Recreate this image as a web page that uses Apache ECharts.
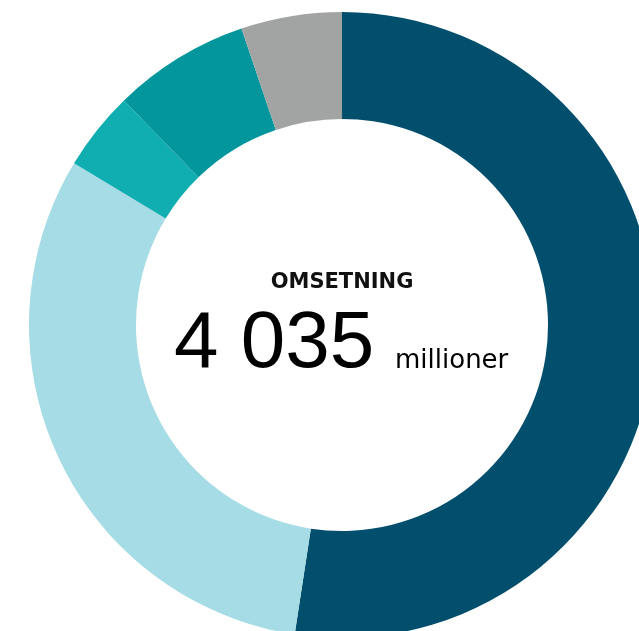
<!DOCTYPE html>
<html>
<head>
<meta charset="utf-8">
<script src="https://cdn.jsdelivr.net/npm/echarts@6/dist/echarts.min.js"></script>
<style>
html,body{margin:0;padding:0;background:#fff;}
#chart{width:639px;height:631px;}
</style>
</head>
<body>
<div id="chart"></div>
<script>
var categories = ['A', 'B', 'C', 'D', 'E'];
var values = [2115, 1260, 165, 285, 210];
var colors = ['#024e6d', '#a6dce5', '#10aeb1', '#03969c', '#a2a4a3'];
var titleText = 'OMSETNING';
var totalText = '4 035';
var unitText = 'millioner';

var chart = echarts.init(document.getElementById('chart'));
chart.setOption({
  animation: false,
  backgroundColor: '#ffffff',
  series: [{
    type: 'pie',
    center: [342, 325],
    radius: [206, 313],
    startAngle: 90,
    clockwise: true,
    label: {show: false},
    labelLine: {show: false},
    emphasis: {disabled: true},
    itemStyle: {borderWidth: 0},
    data: categories.map(function (c, i) {
      return {name: c, value: values[i], itemStyle: {color: colors[i]}};
    })
  }],
  graphic: [
    {type: 'text', x: 342, y: 283, style: {text: titleText, fontFamily: 'DejaVu Sans', fontWeight: 'bold', fontSize: 21, fill: '#111', textAlign: 'center', textVerticalAlign: 'middle'}},
    {type: 'text', x: 174, y: 345, style: {text: totalText, fontFamily: 'Liberation Sans', fontSize: 80, fill: '#000', textAlign: 'left', textVerticalAlign: 'middle'}},
    {type: 'text', x: 395, y: 361, style: {text: unitText, fontFamily: 'DejaVu Sans', fontSize: 26, fill: '#000', textAlign: 'left', textVerticalAlign: 'middle'}}
  ]
});
</script>
</body>
</html>
